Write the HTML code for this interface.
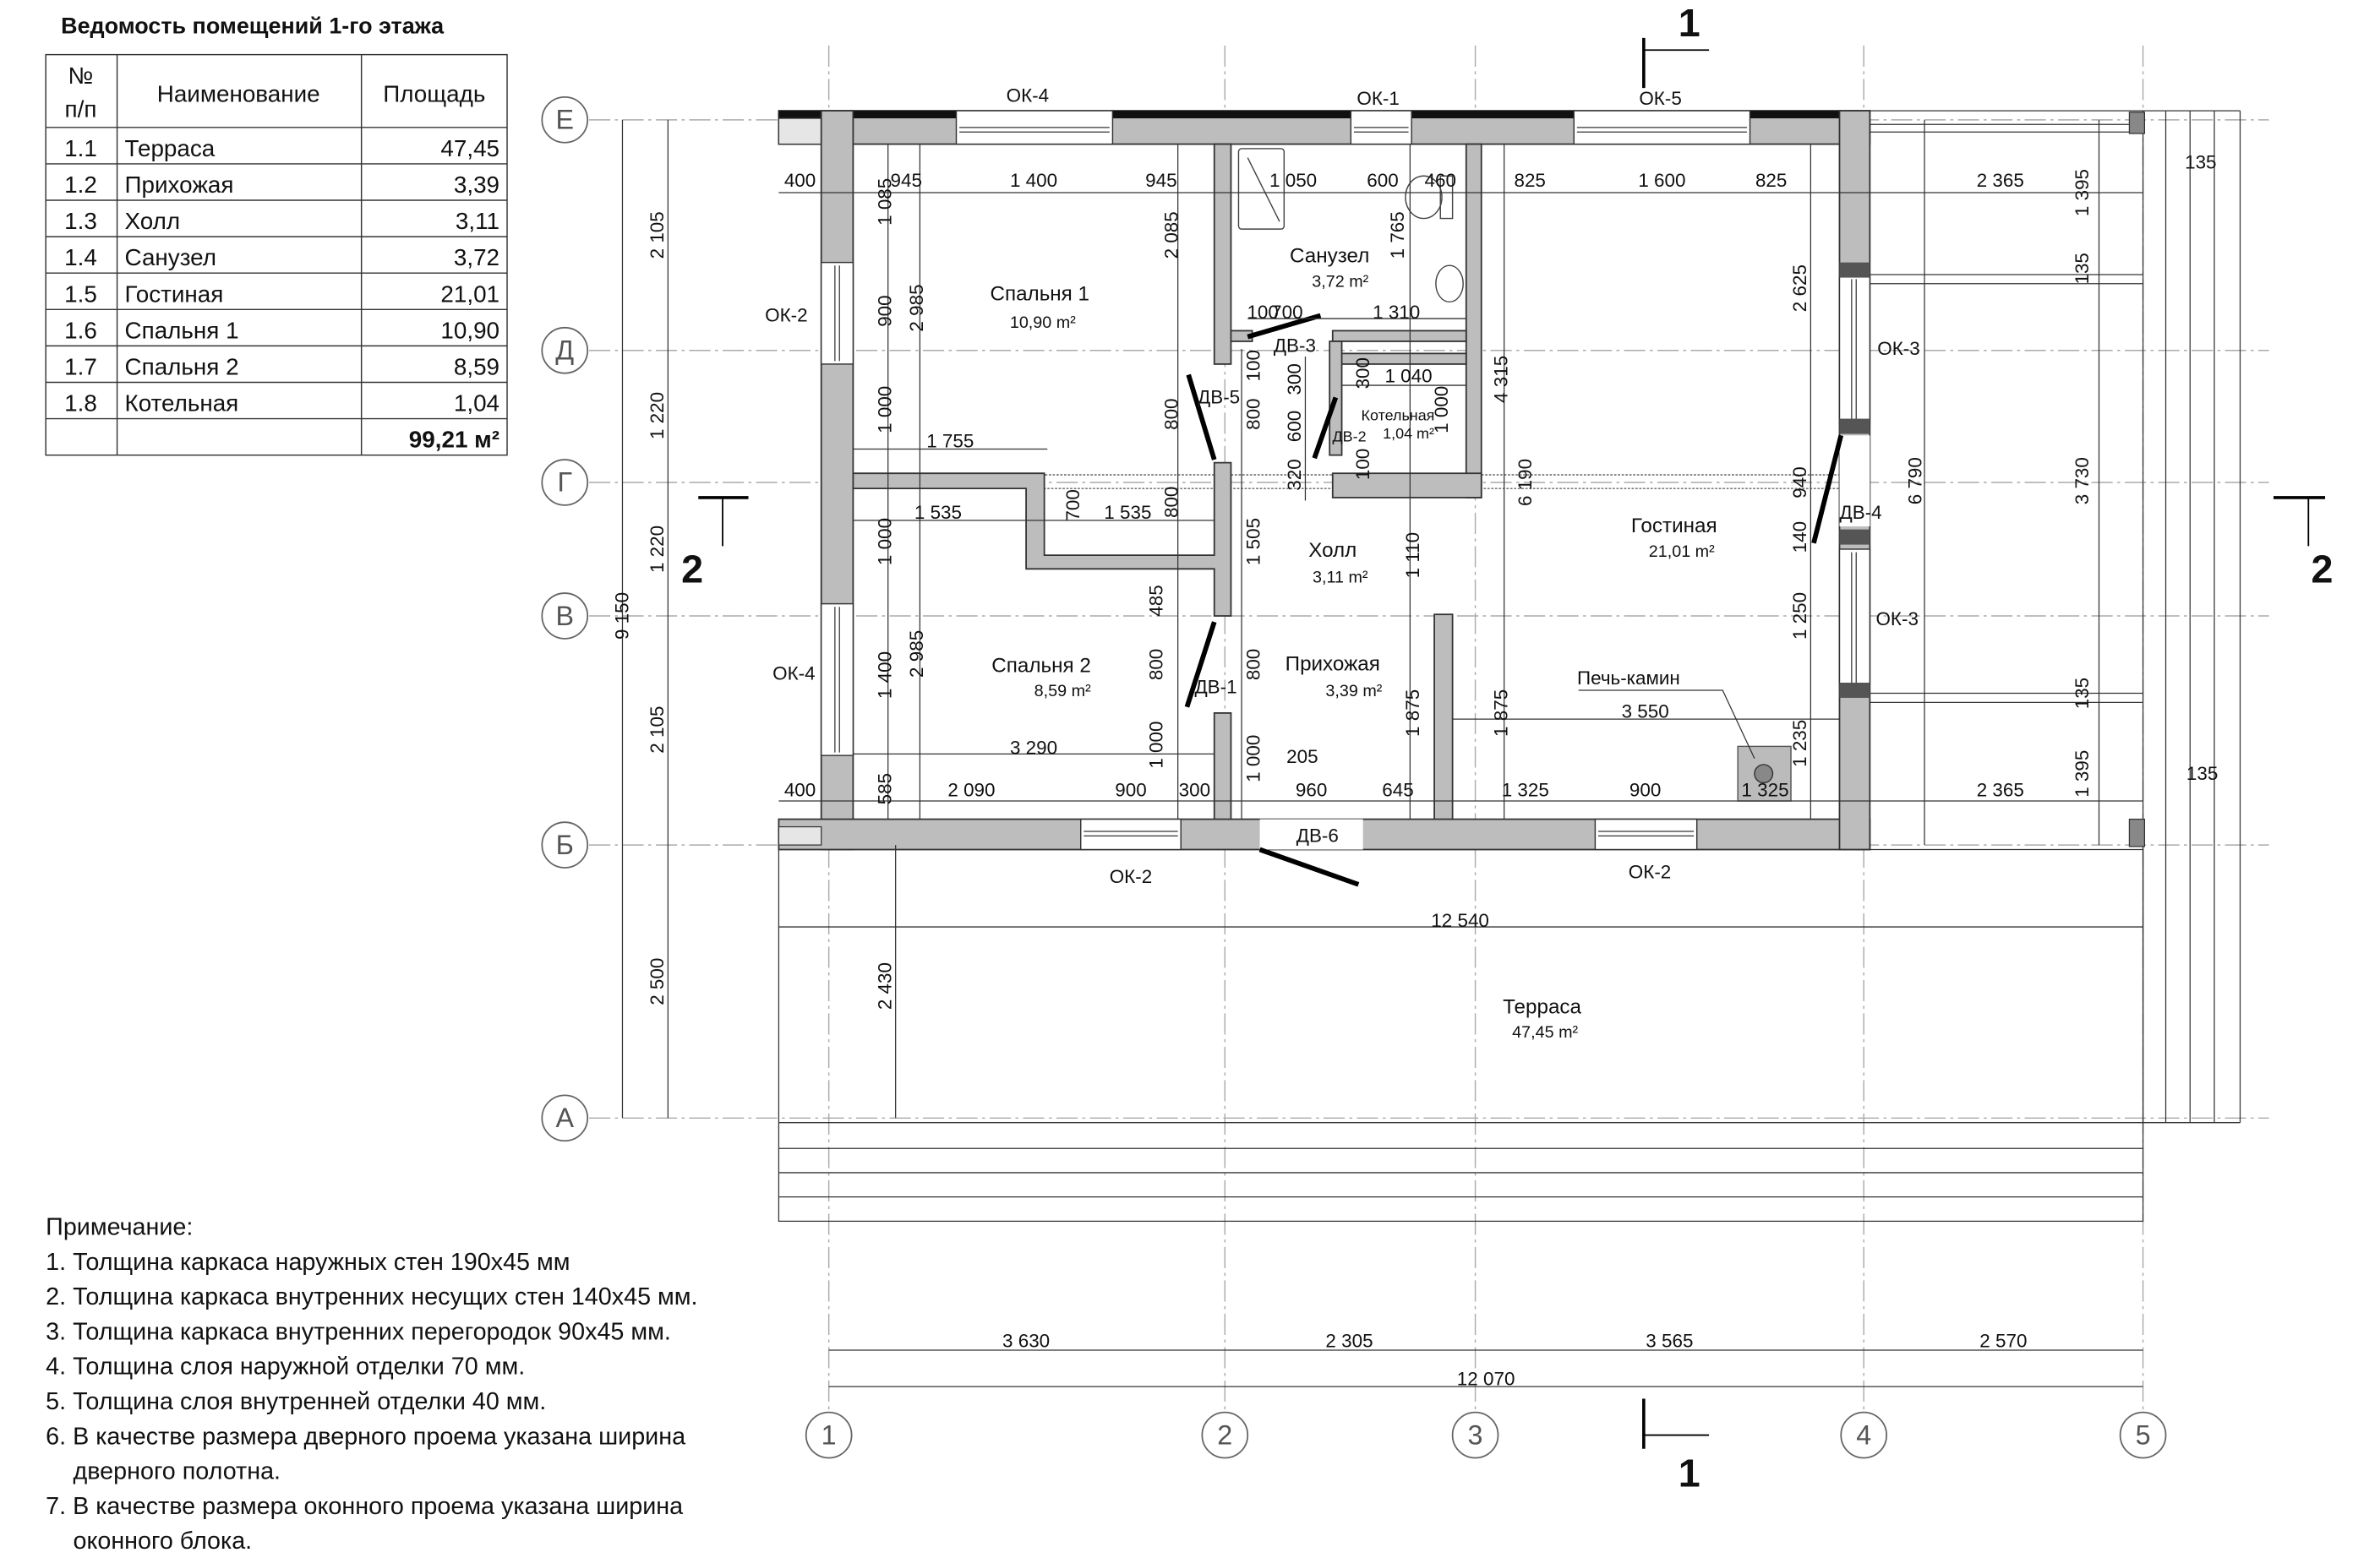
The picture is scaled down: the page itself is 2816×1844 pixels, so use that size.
<!DOCTYPE html>
<html><head><meta charset="utf-8"><style>
html,body{margin:0;padding:0;background:#fff}
svg{display:block}
text{font-family:"Liberation Sans",sans-serif;fill:#111}
.d{font-size:12.5px}
.r{font-size:13.5px}
.s{font-size:11px}
.w{fill:#bdbdbd;stroke:#333;stroke-width:1}
.g{stroke:#aaa;stroke-width:0.8;stroke-dasharray:14 3 2 3;fill:none}
.dl{stroke:#333;stroke-width:0.7;fill:none}
.dr{stroke:#000;stroke-width:3.2}
.win{fill:#fff;stroke:#333;stroke-width:0.8}
</style></head><body>
<svg width="2816" height="1844" viewBox="0 0 1568 1027" xmlns="http://www.w3.org/2000/svg">
<rect width="1568" height="1027" fill="#fff"/>
<!-- grid lines -->
<g class="g">
<line x1="546" y1="30" x2="546" y2="930"/><line x1="807" y1="30" x2="807" y2="930"/><line x1="972" y1="30" x2="972" y2="930"/><line x1="1228" y1="30" x2="1228" y2="930"/><line x1="1412" y1="30" x2="1412" y2="930"/>
<line x1="388" y1="79" x2="1495" y2="79"/><line x1="388" y1="231" x2="1495" y2="231"/><line x1="388" y1="318" x2="1495" y2="318"/><line x1="388" y1="406" x2="1495" y2="406"/><line x1="388" y1="557" x2="1495" y2="557"/><line x1="388" y1="737" x2="1495" y2="737"/>
</g>
<!-- axis circles -->
<g fill="#fff" stroke="#666" stroke-width="1">
<circle cx="372" cy="79" r="15"/><circle cx="372" cy="231" r="15"/><circle cx="372" cy="318" r="15"/><circle cx="372" cy="406" r="15"/><circle cx="372" cy="557" r="15"/><circle cx="372" cy="737" r="15"/>
<circle cx="546" cy="946" r="15"/><circle cx="807" cy="946" r="15"/><circle cx="972" cy="946" r="15"/><circle cx="1228" cy="946" r="15"/><circle cx="1412" cy="946" r="15"/>
</g>
<g font-size="18" text-anchor="middle" style="fill:#555">
<text x="372" y="85" style="fill:#555">Е</text><text x="372" y="237" style="fill:#555">Д</text><text x="372" y="324" style="fill:#555">Г</text><text x="372" y="412" style="fill:#555">В</text><text x="372" y="563" style="fill:#555">Б</text><text x="372" y="743" style="fill:#555">А</text>
<text x="546" y="952" style="fill:#555">1</text><text x="807" y="952" style="fill:#555">2</text><text x="972" y="952" style="fill:#555">3</text><text x="1228" y="952" style="fill:#555">4</text><text x="1412" y="952" style="fill:#555">5</text>
</g>
<!-- terrace -->
<g class="dl" stroke-width="0.9">
<rect x="513" y="560" width="899" height="245"/>
<line x1="513" y1="740" x2="1412" y2="740"/><line x1="513" y1="757" x2="1412" y2="757"/><line x1="513" y1="773" x2="1412" y2="773"/><line x1="513" y1="789" x2="1412" y2="789"/>
<line x1="1412" y1="73" x2="1412" y2="740"/><line x1="1427" y1="73" x2="1427" y2="740"/><line x1="1443" y1="73" x2="1443" y2="740"/><line x1="1459" y1="73" x2="1459" y2="740"/><line x1="1476" y1="73" x2="1476" y2="740"/>
<line x1="1232" y1="73" x2="1476" y2="73"/><line x1="1412" y1="740" x2="1476" y2="740"/>
<line x1="1232" y1="82" x2="1412" y2="82"/><line x1="1232" y1="87" x2="1412" y2="87"/>
<line x1="1232" y1="181" x2="1412" y2="181"/><line x1="1232" y1="187" x2="1412" y2="187"/>
<line x1="1232" y1="457" x2="1412" y2="457"/><line x1="1232" y1="463" x2="1412" y2="463"/>
</g>
<rect x="1403" y="74" width="10" height="14" fill="#888" stroke="#333" stroke-width=".7"/>
<rect x="1403" y="540" width="10" height="18" fill="#888" stroke="#333" stroke-width=".7"/>
<!-- beam -->
<rect x="686" y="313" width="542" height="9" fill="none" stroke="#666" stroke-width="0.8" stroke-dasharray="1.5 1"/>
<!-- outer walls -->
<rect x="513" y="73" width="719" height="22" class="w"/>
<rect x="513" y="73" width="719" height="5" fill="#111"/>
<rect x="513" y="78" width="28" height="17" fill="#e6e6e6" stroke="#333" stroke-width=".7"/>
<rect x="541" y="73" width="21" height="487" class="w"/>
<rect x="513" y="540" width="719" height="20" class="w"/>
<rect x="513" y="545" width="28" height="12" fill="#e6e6e6" stroke="#333" stroke-width=".7"/>
<rect x="1212" y="73" width="20" height="487" class="w"/>
<!-- windows -->
<g class="win">
<rect x="630" y="73" width="103" height="22"/><rect x="890" y="73" width="40" height="22"/><rect x="1037" y="73" width="116" height="22"/>
<rect x="541" y="173" width="21" height="67"/><rect x="541" y="398" width="21" height="100"/>
<rect x="712" y="540" width="66" height="20"/><rect x="1051" y="540" width="67" height="20"/>
<rect x="1212" y="182" width="20" height="98"/><rect x="1212" y="362" width="20" height="90"/>
<rect x="830" y="540" width="68" height="20" stroke="none"/>
<rect x="1212" y="287" width="20" height="60" stroke="none"/>
</g>
<g stroke="#333" stroke-width="0.7">
<line x1="632" y1="84" x2="731" y2="84"/><line x1="632" y1="87" x2="731" y2="87"/>
<line x1="892" y1="84" x2="928" y2="84"/><line x1="892" y1="87" x2="928" y2="87"/>
<line x1="1039" y1="84" x2="1151" y2="84"/><line x1="1039" y1="87" x2="1151" y2="87"/>
<line x1="550" y1="175" x2="550" y2="238"/><line x1="553" y1="175" x2="553" y2="238"/>
<line x1="550" y1="400" x2="550" y2="496"/><line x1="553" y1="400" x2="553" y2="496"/>
<line x1="714" y1="548" x2="776" y2="548"/><line x1="714" y1="551" x2="776" y2="551"/>
<line x1="1053" y1="548" x2="1116" y2="548"/><line x1="1053" y1="551" x2="1116" y2="551"/>
<line x1="1220" y1="184" x2="1220" y2="278"/><line x1="1223" y1="184" x2="1223" y2="278"/>
<line x1="1220" y1="364" x2="1220" y2="450"/><line x1="1223" y1="364" x2="1223" y2="450"/>
</g>
<rect x="1212" y="173" width="20" height="10" fill="#555"/><rect x="1212" y="276" width="20" height="10" fill="#555"/>
<rect x="1212" y="349" width="20" height="10" fill="#555"/><rect x="1212" y="450" width="20" height="10" fill="#555"/>
<!-- interior walls -->
<g class="w">
<rect x="800" y="95" width="11" height="145"/>
<rect x="966" y="95" width="10" height="233"/>
<rect x="878" y="218" width="88" height="7"/>
<rect x="811" y="218" width="14" height="7"/>
<rect x="878" y="233" width="88" height="7"/>
<rect x="876" y="225" width="8" height="75"/>
<rect x="878" y="312" width="98" height="16"/>
<polygon points="562,312 688,312 688,366 800,366 800,305 811,305 811,406 800,406 800,375 676,375 676,322 562,322"/>
<rect x="800" y="470" width="11" height="70"/>
<rect x="945" y="405" width="12" height="135"/>
</g>
<!-- doors -->
<g class="dr">
<line x1="822" y1="222" x2="870" y2="208"/>
<line x1="783" y1="247" x2="800" y2="303"/>
<line x1="880" y1="262" x2="866" y2="302"/>
<line x1="800" y1="410" x2="782" y2="466"/>
<line x1="830" y1="560" x2="895" y2="583"/>
<line x1="1213" y1="287" x2="1195" y2="358"/>
</g>
<!-- sanuzel fixtures -->
<g fill="none" stroke="#444" stroke-width="0.8">
<rect x="816" y="98" width="30" height="53" rx="2"/><line x1="822" y1="104" x2="843" y2="146"/>
<ellipse cx="938" cy="130" rx="12" ry="14"/><rect x="949" y="116" width="8" height="28"/>
<ellipse cx="955" cy="187" rx="9" ry="12"/>
</g>
<!-- stove -->
<rect x="1145" y="492" width="35" height="36" fill="#bbb" stroke="#555" stroke-width=".8"/>
<circle cx="1162" cy="510" r="6" fill="#888" stroke="#333" stroke-width=".8"/>
<polyline points="1040,455 1135,455 1156,500" class="dl"/>
<!-- dimension lines -->
<g class="dl">
<line x1="513" y1="127" x2="1412" y2="127"/>
<line x1="513" y1="528" x2="1412" y2="528"/>
<line x1="562" y1="497" x2="800" y2="497"/>
<line x1="957" y1="474" x2="1212" y2="474"/>
<line x1="562" y1="296" x2="690" y2="296"/>
<line x1="562" y1="343" x2="800" y2="343"/>
<line x1="822" y1="210" x2="966" y2="210"/>
<line x1="884" y1="254" x2="966" y2="254"/>
<line x1="513" y1="611" x2="1412" y2="611"/>
<line x1="546" y1="890" x2="1412" y2="890"/>
<line x1="546" y1="914" x2="1412" y2="914"/>
<line x1="410" y1="79" x2="410" y2="737"/>
<line x1="440" y1="79" x2="440" y2="737"/>
<line x1="590" y1="557" x2="590" y2="737"/>
<line x1="1268" y1="79" x2="1268" y2="557"/>
<line x1="1383" y1="79" x2="1383" y2="557"/>
<line x1="585" y1="95" x2="585" y2="540"/>
<line x1="606" y1="95" x2="606" y2="540"/>
<line x1="776" y1="95" x2="776" y2="540"/>
<line x1="818" y1="230" x2="818" y2="540"/>
<line x1="929" y1="95" x2="929" y2="540"/>
<line x1="991" y1="95" x2="991" y2="540"/>
<line x1="1193" y1="95" x2="1193" y2="540"/>
<line x1="860" y1="235" x2="860" y2="330"/>
</g>
<!-- section marks -->
<g stroke="#000" stroke-width="2" fill="none">
<line x1="1083" y1="25" x2="1083" y2="58"/><line x1="1083" y1="33" x2="1126" y2="33" stroke-width="1"/>
<line x1="1083" y1="922" x2="1083" y2="955"/><line x1="1083" y1="946" x2="1126" y2="946" stroke-width="1"/>
<line x1="460" y1="328" x2="493" y2="328"/><line x1="476" y1="328" x2="476" y2="360" stroke-width="1"/>
<line x1="1498" y1="328" x2="1532" y2="328"/><line x1="1521" y1="328" x2="1521" y2="360" stroke-width="1"/>
</g>
<g font-size="26" font-weight="bold" text-anchor="middle">
<text x="1113" y="24">1</text><text x="1113" y="980">1</text><text x="456" y="384">2</text><text x="1530" y="384">2</text>
</g>
<!-- horizontal dim text -->
<g class="d" text-anchor="middle">
<text x="527" y="123">400</text><text x="597" y="123">945</text><text x="681" y="123">1 400</text><text x="765" y="123">945</text><text x="852" y="123">1 050</text><text x="911" y="123">600</text><text x="949" y="123">460</text><text x="1008" y="123">825</text><text x="1095" y="123">1 600</text><text x="1167" y="123">825</text><text x="1318" y="123">2 365</text>
<text x="527" y="525">400</text><text x="640" y="525">2 090</text><text x="745" y="525">900</text><text x="787" y="525">300</text><text x="864" y="525">960</text><text x="921" y="525">645</text><text x="1005" y="525">1 325</text><text x="1084" y="525">900</text><text x="1163" y="525">1 325</text><text x="1318" y="525">2 365</text>
<text x="858" y="503">205</text><text x="681" y="497">3 290</text><text x="1084" y="473">3 550</text><text x="626" y="295">1 755</text>
<text x="618" y="342">1 535</text><text x="743" y="342">1 535</text>
<text x="832" y="210">100</text><text x="848" y="210">700</text><text x="920" y="210">1 310</text><text x="928" y="252">1 040</text>
<text x="962" y="611">12 540</text>
<text x="676" y="888">3 630</text><text x="889" y="888">2 305</text><text x="1100" y="888">3 565</text><text x="1320" y="888">2 570</text><text x="979" y="913">12 070</text>
<text x="1450" y="111">135</text><text x="1451" y="514">135</text>
</g>
<!-- rotated dim text -->
<g class="d" text-anchor="middle">
<text transform="translate(414,406) rotate(-90)">9 150</text>
<text transform="translate(437,155) rotate(-90)">2 105</text><text transform="translate(437,274) rotate(-90)">1 220</text><text transform="translate(437,362) rotate(-90)">1 220</text><text transform="translate(437,481) rotate(-90)">2 105</text><text transform="translate(437,647) rotate(-90)">2 500</text>
<text transform="translate(587,650) rotate(-90)">2 430</text>
<text transform="translate(587,133) rotate(-90)">1 085</text><text transform="translate(587,205) rotate(-90)">900</text><text transform="translate(587,270) rotate(-90)">1 000</text><text transform="translate(587,357) rotate(-90)">1 000</text><text transform="translate(587,445) rotate(-90)">1 400</text><text transform="translate(587,520) rotate(-90)">585</text>
<text transform="translate(608,203) rotate(-90)">2 985</text><text transform="translate(608,431) rotate(-90)">2 985</text>
<text transform="translate(776,155) rotate(-90)">2 085</text><text transform="translate(776,273) rotate(-90)">800</text><text transform="translate(776,331) rotate(-90)">800</text><text transform="translate(766,396) rotate(-90)">485</text><text transform="translate(766,438) rotate(-90)">800</text><text transform="translate(766,491) rotate(-90)">1 000</text>
<text transform="translate(830,241) rotate(-90)">100</text><text transform="translate(830,273) rotate(-90)">800</text><text transform="translate(830,357) rotate(-90)">1 505</text><text transform="translate(830,438) rotate(-90)">800</text><text transform="translate(830,500) rotate(-90)">1 000</text>
<text transform="translate(711,333) rotate(-90)">700</text>
<text transform="translate(857,250) rotate(-90)">300</text><text transform="translate(857,281) rotate(-90)">600</text><text transform="translate(857,313) rotate(-90)">320</text>
<text transform="translate(902,246) rotate(-90)">300</text><text transform="translate(902,306) rotate(-90)">100</text>
<text transform="translate(925,155) rotate(-90)">1 765</text><text transform="translate(954,270) rotate(-90)">1 000</text>
<text transform="translate(935,366) rotate(-90)">1 110</text><text transform="translate(935,470) rotate(-90)">1 875</text>
<text transform="translate(993,250) rotate(-90)">4 315</text><text transform="translate(1009,318) rotate(-90)">6 190</text><text transform="translate(993,470) rotate(-90)">1 875</text>
<text transform="translate(1190,190) rotate(-90)">2 625</text><text transform="translate(1190,318) rotate(-90)">940</text><text transform="translate(1190,354) rotate(-90)">140</text><text transform="translate(1190,406) rotate(-90)">1 250</text><text transform="translate(1190,490) rotate(-90)">1 235</text>
<text transform="translate(1266,317) rotate(-90)">6 790</text>
<text transform="translate(1376,127) rotate(-90)">1 395</text><text transform="translate(1376,177) rotate(-90)">135</text><text transform="translate(1376,317) rotate(-90)">3 730</text><text transform="translate(1376,457) rotate(-90)">135</text><text transform="translate(1376,510) rotate(-90)">1 395</text>
</g>
<!-- room labels -->
<g class="r" text-anchor="middle">
<text x="685" y="198">Спальня 1</text><text x="876" y="173">Санузел</text><text x="878" y="367">Холл</text><text x="1103" y="351">Гостиная</text><text x="686" y="443">Спальня 2</text><text x="878" y="442">Прихожая</text><text x="1016" y="668">Терраса</text>
<text x="1073" y="451" class="d">Печь-камин</text>
</g>
<g class="s" text-anchor="middle">
<text x="687" y="216">10,90 m²</text><text x="883" y="189">3,72 m²</text><text x="883" y="384">3,11 m²</text><text x="1108" y="367">21,01 m²</text><text x="700" y="459">8,59 m²</text><text x="892" y="459">3,39 m²</text><text x="1018" y="684">47,45 m²</text>
<text x="921" y="277" font-size="10">Котельная</text><text x="928" y="289" font-size="10">1,04 m²</text><text x="889" y="291" font-size="10">ДВ-2</text>
</g>
<g class="d" text-anchor="middle">
<text x="853" y="232">ДВ-3</text><text x="803" y="266">ДВ-5</text><text x="801" y="457">ДВ-1</text><text x="868" y="555">ДВ-6</text><text x="1226" y="342">ДВ-4</text>
<text x="677" y="67">ОК-4</text><text x="908" y="69">ОК-1</text><text x="1094" y="69">ОК-5</text><text x="518" y="212">ОК-2</text><text x="523" y="448">ОК-4</text><text x="1251" y="234">ОК-3</text><text x="1250" y="412">ОК-3</text><text x="745" y="582">ОК-2</text><text x="1087" y="579">ОК-2</text>
</g>
<!-- table -->
<text x="40" y="22" font-size="15" font-weight="bold">Ведомость помещений 1-го этажа</text>
<g stroke="#333" stroke-width="0.8" fill="none">
<rect x="30" y="36" width="304" height="264"/>
<line x1="77" y1="36" x2="77" y2="300"/><line x1="238" y1="36" x2="238" y2="300"/>
<line x1="30" y1="84" x2="334" y2="84"/><line x1="30" y1="108" x2="334" y2="108"/><line x1="30" y1="132" x2="334" y2="132"/><line x1="30" y1="156" x2="334" y2="156"/><line x1="30" y1="180" x2="334" y2="180"/><line x1="30" y1="204" x2="334" y2="204"/><line x1="30" y1="228" x2="334" y2="228"/><line x1="30" y1="252" x2="334" y2="252"/><line x1="30" y1="276" x2="334" y2="276"/>
</g>
<g font-size="15.5">
<text x="53" y="55" text-anchor="middle">№</text><text x="53" y="77" text-anchor="middle">п/п</text><text x="157" y="67" text-anchor="middle">Наименование</text><text x="286" y="67" text-anchor="middle">Площадь</text>
<text x="53" y="103" text-anchor="middle">1.1</text><text x="82" y="103">Терраса</text><text x="329" y="103" text-anchor="end">47,45</text>
<text x="53" y="127" text-anchor="middle">1.2</text><text x="82" y="127">Прихожая</text><text x="329" y="127" text-anchor="end">3,39</text>
<text x="53" y="151" text-anchor="middle">1.3</text><text x="82" y="151">Холл</text><text x="329" y="151" text-anchor="end">3,11</text>
<text x="53" y="175" text-anchor="middle">1.4</text><text x="82" y="175">Санузел</text><text x="329" y="175" text-anchor="end">3,72</text>
<text x="53" y="199" text-anchor="middle">1.5</text><text x="82" y="199">Гостиная</text><text x="329" y="199" text-anchor="end">21,01</text>
<text x="53" y="223" text-anchor="middle">1.6</text><text x="82" y="223">Спальня 1</text><text x="329" y="223" text-anchor="end">10,90</text>
<text x="53" y="247" text-anchor="middle">1.7</text><text x="82" y="247">Спальня 2</text><text x="329" y="247" text-anchor="end">8,59</text>
<text x="53" y="271" text-anchor="middle">1.8</text><text x="82" y="271">Котельная</text><text x="329" y="271" text-anchor="end">1,04</text>
<text x="329" y="295" text-anchor="end" font-weight="bold">99,21 м²</text>
</g>
<!-- notes -->
<g font-size="16">
<text x="30" y="814">Примечание:</text>
<text x="30" y="837">1. Толщина каркаса наружных стен 190х45 мм</text>
<text x="30" y="860">2. Толщина каркаса внутренних несущих стен 140х45 мм.</text>
<text x="30" y="883">3. Толщина каркаса внутренних перегородок 90х45 мм.</text>
<text x="30" y="906">4. Толщина слоя наружной отделки 70 мм.</text>
<text x="30" y="929">5. Толщина слоя внутренней отделки 40 мм.</text>
<text x="30" y="952">6. В качестве размера дверного проема указана ширина</text>
<text x="48" y="975">дверного полотна.</text>
<text x="30" y="998">7. В качестве размера оконного проема указана ширина</text>
<text x="48" y="1021">оконного блока.</text>
</g>
</svg>
</body></html>
